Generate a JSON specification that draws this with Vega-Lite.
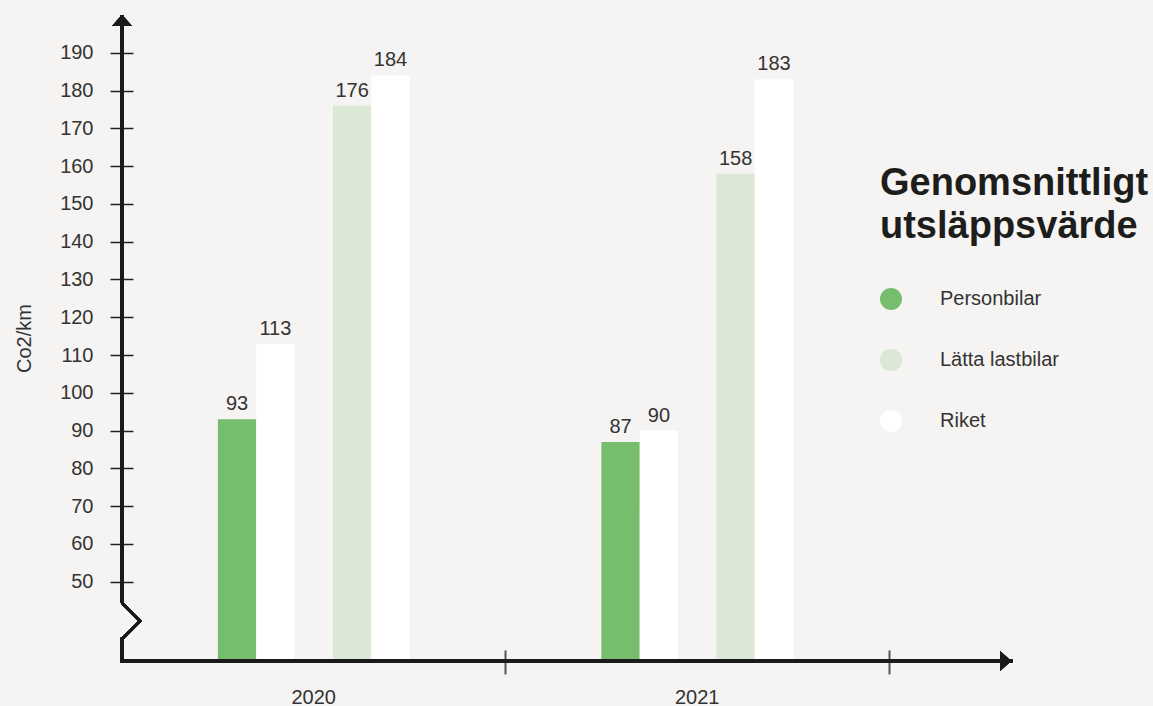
{
  "$schema": "https://vega.github.io/schema/vega-lite/v6.json",
  "autosize": "none",
  "width": 889,
  "height": 646,
  "padding": {"left": 122, "top": 15, "right": 142, "bottom": 45},
  "background": "#f5f4f2",
  "config": {
    "font": "Liberation Sans",
    "view": {"stroke": null}
  },
  "data": {
    "values": [
      {"ar": "2020", "serie": "Personbilar", "grupp": "Personbilar", "varde": 93},
      {"ar": "2020", "serie": "Riket", "grupp": "Riket (jmf personbilar)", "varde": 113},
      {"ar": "2020", "serie": "Lätta lastbilar", "grupp": "Lätta lastbilar", "varde": 176},
      {"ar": "2020", "serie": "Riket", "grupp": "Riket (jmf lätta lastbilar)", "varde": 184},
      {"ar": "2021", "serie": "Personbilar", "grupp": "Personbilar", "varde": 87},
      {"ar": "2021", "serie": "Riket", "grupp": "Riket (jmf personbilar)", "varde": 90},
      {"ar": "2021", "serie": "Lätta lastbilar", "grupp": "Lätta lastbilar", "varde": 158},
      {"ar": "2021", "serie": "Riket", "grupp": "Riket (jmf lätta lastbilar)", "varde": 183}
    ]
  },
  "resolve": {"scale": {"x": "independent"}, "axis": {"x": "independent"}},
  "layer": [
    {
      "mark": {"type": "bar"},
      "encoding": {
        "x": {
          "field": "ar", "type": "nominal",
          "scale": {"domain": ["2020", "2021"], "range": [0, 767], "paddingInner": 0.5, "paddingOuter": 0.25},
          "axis": {"orient": "bottom", "title": null, "domain": false, "ticks": false, "tickSize": 0, "labelPadding": 26, "labelFontSize": 20, "labelColor": "#333333", "labelAngle": 0}
        },
        "xOffset": {
          "field": "grupp", "type": "nominal",
          "scale": {"domain": ["Personbilar", "Riket (jmf personbilar)", "-", "Lätta lastbilar", "Riket (jmf lätta lastbilar)"], "paddingInner": 0, "paddingOuter": 0}
        },
        "y": {
          "field": "varde", "type": "quantitative", "title": "Co2/km",
          "scale": {"domain": [29, 200], "nice": false, "zero": false},
          "axis": {
            "values": [50, 60, 70, 80, 90, 100, 110, 120, 130, 140, 150, 160, 170, 180, 190],
            "offset": -11, "tickSize": 23, "tickWidth": 1.5, "tickColor": "#222222",
            "domain": false, "grid": false,
            "labelPadding": 17, "labelFontSize": 20, "labelColor": "#333333",
            "titleFontSize": 20, "titleFontWeight": "normal", "titleColor": "#333333", "titlePadding": 25
          }
        },
        "y2": {"datum": 29},
        "color": {
          "field": "serie", "type": "nominal",
          "scale": {"domain": ["Personbilar", "Lätta lastbilar", "Riket"], "range": ["#76be6e", "#dbe8d6", "#ffffff"]},
          "legend": {
            "orient": "none", "legendX": 758, "legendY": 150,
            "title": ["Genomsnittligt", "utsläppsvärde"],
            "titleFontSize": 38, "titleFontWeight": "bold", "titleColor": "#1d1d1b", "titleLineHeight": 43,
            "titlePadding": 42, "titleLimit": 400,
            "symbolType": "circle", "symbolSize": 484, "symbolStrokeWidth": 0, "symbolOpacity": 1,
            "labelFontSize": 20, "labelColor": "#333333", "labelOffset": 38, "labelLimit": 300,
            "rowPadding": 39, "padding": 0
          }
        }
      }
    },
    {
      "mark": {"type": "text", "baseline": "alphabetic", "dy": -9, "fontSize": 20, "color": "#333333"},
      "encoding": {
        "x": {
          "field": "ar", "type": "nominal",
          "scale": {"domain": ["2020", "2021"], "range": [0, 767], "paddingInner": 0.5, "paddingOuter": 0.25},
          "axis": {"orient": "bottom", "title": null, "domain": false, "labels": false, "ticks": true, "tickSize": 24, "tickWidth": 2, "tickColor": "#555555", "offset": -11, "bandPosition": 1.5}
        },
        "xOffset": {
          "field": "grupp", "type": "nominal",
          "scale": {"domain": ["Personbilar", "Riket (jmf personbilar)", "-", "Lätta lastbilar", "Riket (jmf lätta lastbilar)"], "paddingInner": 0, "paddingOuter": 0}
        },
        "y": {"field": "varde", "type": "quantitative", "title": "Co2/km", "scale": {"domain": [29, 200], "nice": false, "zero": false}},
        "text": {"field": "varde", "type": "quantitative"}
      }
    },
    {
      "mark": {"type": "rule", "color": "#1a1a1a", "strokeWidth": 3, "strokeCap": "square"},
      "encoding": {
        "y": {"datum": 29, "type": "quantitative", "title": "Co2/km", "scale": {"domain": [29, 200], "nice": false, "zero": false}}
      }
    },
    {
      "mark": {"type": "rule", "color": "#1a1a1a", "strokeWidth": 3, "strokeCap": "butt"},
      "encoding": {
        "x": {"datum": 0, "type": "quantitative", "scale": {"domain": [0, 1], "nice": false, "zero": false}, "axis": null},
        "y": {"datum": 44.4, "type": "quantitative", "title": "Co2/km", "scale": {"domain": [29, 200], "nice": false, "zero": false}},
        "y2": {"datum": 200}
      }
    },
    {
      "mark": {"type": "rule", "color": "#1a1a1a", "strokeWidth": 3, "strokeCap": "square"},
      "encoding": {
        "x": {"datum": 0, "type": "quantitative", "scale": {"domain": [0, 1], "nice": false, "zero": false}, "axis": null},
        "y": {"datum": 29, "type": "quantitative", "title": "Co2/km", "scale": {"domain": [29, 200], "nice": false, "zero": false}},
        "y2": {"datum": 34.8}
      }
    },
    {
      "mark": {"type": "point", "shape": "M0,-18L18,0L0,18", "size": 4, "filled": false, "stroke": "#1a1a1a", "strokeWidth": 3, "strokeJoin": "miter", "opacity": 1},
      "encoding": {
        "x": {"datum": 0, "type": "quantitative", "scale": {"domain": [0, 1], "nice": false, "zero": false}, "axis": null},
        "y": {"datum": 39.6, "type": "quantitative", "title": "Co2/km", "scale": {"domain": [29, 200], "nice": false, "zero": false}}
      }
    },
    {
      "mark": {"type": "point", "shape": "M-10,11L10,11L0,0Z", "size": 4, "filled": true, "color": "#1a1a1a", "strokeWidth": 0, "opacity": 1},
      "encoding": {
        "x": {"datum": 0, "type": "quantitative", "scale": {"domain": [0, 1], "nice": false, "zero": false}, "axis": null},
        "y": {"datum": 200, "type": "quantitative", "title": "Co2/km", "scale": {"domain": [29, 200], "nice": false, "zero": false}}
      }
    },
    {
      "mark": {"type": "point", "shape": "M-11,-10L-11,10L0,0Z", "size": 4, "filled": true, "color": "#1a1a1a", "strokeWidth": 0, "opacity": 1},
      "encoding": {
        "x": {"datum": 1, "type": "quantitative", "scale": {"domain": [0, 1], "nice": false, "zero": false}, "axis": null},
        "y": {"datum": 29, "type": "quantitative", "title": "Co2/km", "scale": {"domain": [29, 200], "nice": false, "zero": false}}
      }
    }
  ]
}
